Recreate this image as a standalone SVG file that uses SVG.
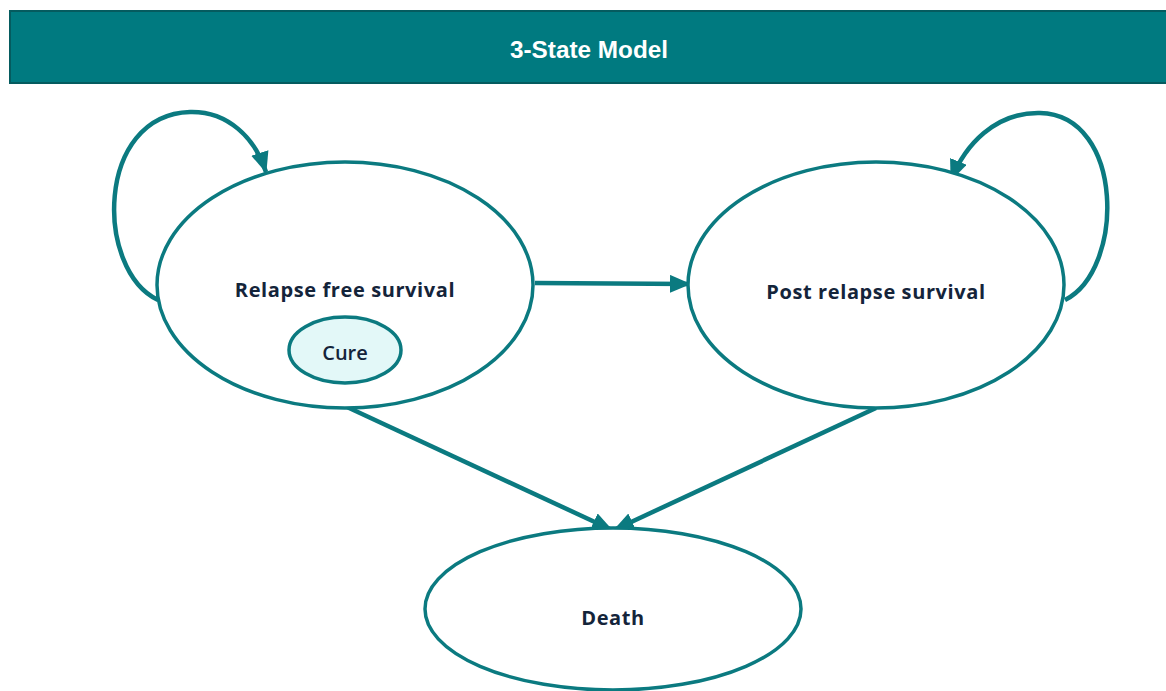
<svg xmlns="http://www.w3.org/2000/svg" width="1166" height="691" viewBox="0 0 1166 691">
  <defs>
    <style>
      .state { fill: #ffffff; stroke: #0b7a80; stroke-width: 3.5; }
      .inner { fill: #e3f8f8; stroke: #0b7a80; stroke-width: 3.5; }
      .label { font-family: "Open Sans", "Liberation Sans", sans-serif; font-weight: 700; font-size: 20px; letter-spacing: 0.6px; fill: #14243a; text-anchor: middle; }
      .small { font-family: "Open Sans", "Liberation Sans", sans-serif; font-weight: 600; font-size: 20px; fill: #14243a; text-anchor: middle; }
      .edge { fill: none; stroke: #0b7a80; stroke-width: 4.5; }
      .title { font-family: "Liberation Sans", Arial, sans-serif; font-weight: 700; font-size: 24px; fill: #ffffff; text-anchor: middle; }
    </style>
    <marker id="arrow" markerUnits="userSpaceOnUse" markerWidth="24" markerHeight="20" refX="20" refY="9" orient="auto">
      <path d="M0,0 L21,9 L0,18 Z" fill="#0b7a80"/>
    </marker>
  </defs>

  <rect width="1166" height="691" fill="#ffffff"/>

  <!-- header bar -->
  <g id="header">
    <rect x="10" y="11" width="1160" height="72" fill="#007a80" stroke="#055b5f" stroke-width="2"/>
    <text class="title" x="589" y="58" textLength="158" lengthAdjust="spacingAndGlyphs">3-State Model</text>
  </g>

  <!-- transitions -->
  <g id="connectors">
    <path class="edge" d="M158,300 C95,270 95,115 190,112 C228,111 255,138 266,172" marker-end="url(#arrow)"/>
    <path class="edge" d="M1065,300 C1125,270 1125,115 1040,113 C995,112 965,145 951,180" marker-end="url(#arrow)"/>
    <line class="edge" x1="535" y1="283" x2="690" y2="284" marker-end="url(#arrow)"/>
    <line class="edge" x1="347" y1="407" x2="612" y2="530" marker-end="url(#arrow)"/>
    <line class="edge" x1="876" y1="408" x2="614" y2="530" marker-end="url(#arrow)"/>
  </g>

  <g id="relapse-free">
    <ellipse class="state" cx="345" cy="285" rx="188" ry="123"/>
    <text class="label" x="345" y="297">Relapse free survival</text>
  </g>

  <g id="cure">
    <ellipse class="inner" cx="345" cy="350" rx="56" ry="33"/>
    <text class="small" x="345" y="360">Cure</text>
  </g>

  <g id="post-relapse">
    <ellipse class="state" cx="876" cy="285" rx="188" ry="123"/>
    <text class="label" x="876" y="299">Post relapse survival</text>
  </g>

  <g id="death">
    <ellipse class="state" cx="613" cy="609" rx="188" ry="81"/>
    <text class="label" x="613" y="625">Death</text>
  </g>
</svg>
